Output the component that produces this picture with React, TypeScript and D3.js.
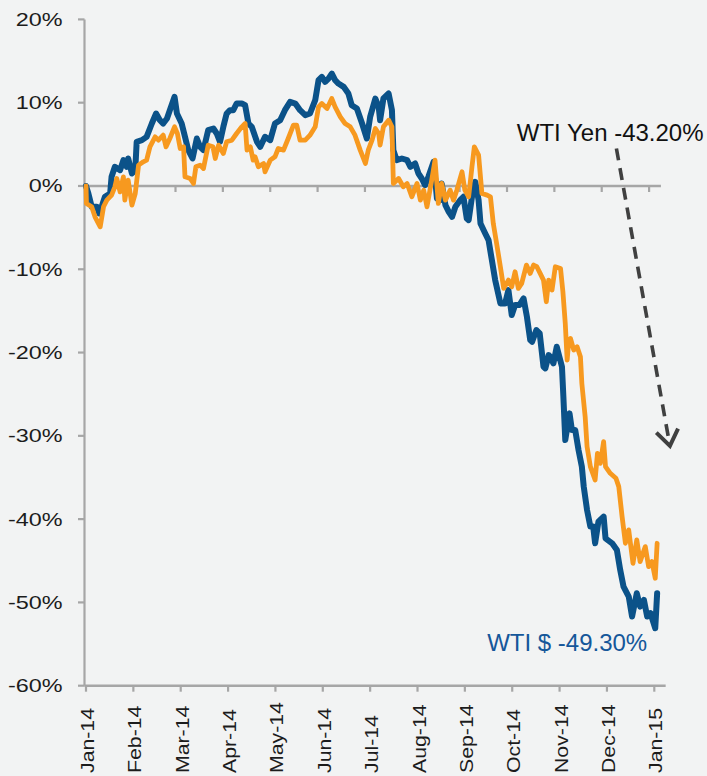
import React from "react";
import * as d3 from "d3";

const W = 707;
const H = 776;

const monthLabels = ["Jan-14","Feb-14","Mar-14","Apr-14","May-14","Jun-14","Jul-14","Aug-14","Sep-14","Oct-14","Nov-14","Dec-14","Jan-15"];
const yTicks = [20, 10, 0, -10, -20, -30, -40, -50, -60];

// WTI in USD, % change since start of 2014 (x = position in months from Jan-14)
const usdMonths = [0,0.05,0.12,0.23,0.28,0.33,0.40,0.51,0.54,0.61,
  0.72,0.79,0.86,0.89,0.97,1.04,1.07,1.18,1.28,1.39,
  1.48,1.56,1.63,1.71,1.77,1.87,1.92,2.02,2.09,2.16,
  2.25,2.34,2.41,2.48,2.58,2.69,2.76,2.83,2.90,2.97,
  3.04,3.11,3.18,3.29,3.36,3.43,3.50,3.61,3.68,3.78,
  3.89,3.99,4.10,4.20,4.31,4.42,4.52,4.63,4.73,4.84,
  4.91,4.98,5.05,5.12,5.19,5.26,5.33,5.44,5.54,5.61,
  5.72,5.83,5.93,6.00,6.11,6.18,6.21,6.28,6.39,6.46,
  6.49,6.56,6.67,6.78,6.85,6.95,7.02,7.09,7.16,7.23,
  7.34,7.41,7.48,7.51,7.59,7.66,7.73,7.80,7.90,7.97,
  8.04,8.08,8.15,8.22,8.29,8.33,8.43,8.50,8.57,8.64,
  8.75,8.85,8.92,8.99,9.06,9.15,9.24,9.31,9.38,9.42,
  9.51,9.58,9.66,9.70,9.77,9.80,9.87,9.94,10.05,10.08,
  10.12,10.21,10.26,10.33,10.40,10.47,10.51,10.58,10.65,10.71,
  10.75,10.82,10.93,10.97,11.11,11.21,11.28,11.35,11.46,11.53,
  11.63,11.70,11.78,11.85,11.92,12.02,12.06];
const usdValues = [0,-0.9,-2.5,-2.5,-3.3,-2.5,-1.3,-0.9,1.1,2.3,
  1.9,3.1,2.3,3.3,1.5,1.9,5.3,5.5,5.9,7.5,
  8.7,7.9,7.5,8.1,9.1,10.7,8.7,7.5,5.9,4.3,
  3.3,5.7,4.7,4.3,6.7,6.9,6.3,5.3,7.1,8.7,
  9.1,9.1,9.9,9.9,9.7,7.5,7.1,5.3,4.7,5.9,
  5.5,7.5,7.9,9.1,10.1,9.9,9.1,8.5,8.7,10.3,
  12.7,13.1,12.5,12.9,13.5,12.7,12.3,11.9,11.1,9.7,
  9.3,7.5,5.7,8.3,10.5,9.5,7.9,10.5,11.1,9.1,
  4.3,3.1,3.3,3.1,2.3,2.7,1.5,0.9,0.1,1.1,
  2.9,-1.5,-1.7,0.3,-2.3,-3.1,-3.7,-2.5,-1.7,-1.3,
  -3.9,-4.1,-1.3,0.5,-1.7,-4.5,-5.7,-6.5,-8.9,-11.3,
  -14.1,-14.1,-12.5,-15.5,-14.3,-14.3,-13.5,-15.7,-18.5,-18.7,
  -17.3,-17.7,-21.7,-21.9,-20.3,-20.5,-21.3,-19.3,-21.7,-25.3,
  -30.5,-27.3,-29.3,-29.3,-31.7,-33.7,-36.1,-38.9,-40.9,-40.9,
  -42.9,-40.3,-39.7,-42.3,-42.9,-43.7,-46.1,-48.1,-49.3,-51.7,
  -48.9,-50.5,-49.7,-51.7,-51.3,-53.1,-48.9];

// WTI in Yen
const yenMonths = [0,0.01,0.12,0.19,0.30,0.37,0.44,0.54,0.61,0.65,
  0.72,0.79,0.82,0.89,0.97,1.04,1.11,1.21,1.28,1.35,
  1.46,1.53,1.63,1.69,1.77,1.87,1.93,1.99,2.06,2.09,
  2.20,2.27,2.32,2.41,2.48,2.58,2.68,2.73,2.80,2.90,
  2.97,3.08,3.18,3.29,3.36,3.40,3.47,3.53,3.57,3.64,
  3.75,3.78,3.89,3.99,4.06,4.17,4.27,4.38,4.45,4.52,
  4.63,4.73,4.84,4.91,4.98,5.09,5.19,5.26,5.37,5.47,
  5.58,5.68,5.79,5.90,5.96,6.04,6.11,6.18,6.21,6.28,
  6.39,6.46,6.49,6.60,6.70,6.78,6.88,6.99,7.06,7.13,
  7.20,7.30,7.37,7.44,7.51,7.59,7.69,7.76,7.83,7.94,
  8.00,8.08,8.15,8.20,8.29,8.36,8.47,8.54,8.60,8.67,
  8.75,8.82,8.92,8.99,9.06,9.13,9.20,9.30,9.38,9.45,
  9.52,9.59,9.66,9.72,9.77,9.84,9.91,10.02,10.07,10.12,
  10.16,10.19,10.23,10.30,10.37,10.44,10.47,10.54,10.58,10.65,
  10.75,10.80,10.86,10.93,10.97,11.07,11.19,11.25,11.32,11.39,
  11.46,11.55,11.63,11.70,11.81,11.88,11.95,12.02,12.06];
const yenValues = [0,-2.1,-2.5,-3.7,-4.9,-2.5,-1.7,-1.1,-0.1,0.9,
  -0.7,1.1,-1.7,0.7,-2.3,-0.9,2.5,2.9,3.1,4.7,
  5.9,5.5,6.1,4.7,5.7,7.1,6.3,4.5,4.7,1.1,
  0.9,0.3,2.3,2.5,2.1,4.9,4.7,3.3,4.9,3.9,
  5.3,5.5,6.3,7.1,7.5,4.3,4.7,3.1,3.5,2.3,
  2.7,1.7,3.1,3.5,4.5,4.3,5.7,7.3,7.3,5.5,
  5.5,6.1,7.1,9.5,9.9,9.3,10.5,9.5,8.3,7.5,
  7.1,6.1,4.3,2.7,4.3,5.5,6.9,6.3,4.9,7.1,
  7.9,7.1,0.3,0.9,-0.1,0.3,-1.3,0.3,-1.7,-0.5,
  -2.5,0.7,3.1,-2.1,0.3,-1.7,-0.5,-1.7,-0.5,1.7,
  -0.5,-1.3,2.3,4.7,3.7,-0.9,-1.1,-1.3,-4.5,-6.9,
  -9.7,-12.3,-11.3,-12.1,-10.3,-12.3,-11.7,-9.5,-10.5,-9.5,
  -9.7,-10.5,-11.3,-13.9,-11.3,-12.5,-9.7,-9.9,-12.7,-16.5,
  -20.9,-18.9,-18.3,-19.7,-19.3,-20.5,-23.7,-27.7,-31.3,-33.7,
  -35.3,-32.1,-33.3,-30.7,-33.7,-34.5,-35.1,-36.1,-39.7,-42.9,
  -41.3,-45.3,-42.5,-45.1,-43.3,-45.7,-45.1,-47.1,-42.9];

const labelYen = "WTI Yen -43.20%";
const labelUsd = "WTI $ -49.30%";

const COLOR_USD = "#0b5289";
const COLOR_YEN = "#f7991f";
const AXIS = "#a6a6a6";
const FONT = "'Liberation Sans', Arial, Helvetica, sans-serif";

export default function App() {
  const x = d3.scaleLinear().domain([0, 12]).range([86, 654.3]);
  const y = d3.scaleLinear().domain([-60, 20]).range([685.7, 19.4]);

  const line = d3
    .line<[number, number]>()
    .x((d) => x(d[0]))
    .y((d) => y(d[1]))
    .curve(d3.curveLinear);

  const usd: [number, number][] = usdMonths.map((m, i) => [m, usdValues[i]]);
  const yen: [number, number][] = yenMonths.map((m, i) => [m, yenValues[i]]);

  const x0 = x(0) - 1.5;
  const zeroTicks = d3.range(1, 13).map((m) => m - 0.11);

  // arrow annotation in data coordinates
  const aStart: [number, number] = [11.2, 4.5];
  const aEnd: [number, number] = [12.33, -31.2];
  const ax1 = x(aStart[0]), ay1 = y(aStart[1]);
  const ax2 = x(aEnd[0]), ay2 = y(aEnd[1]);
  const ang = Math.atan2(ay2 - ay1, ax2 - ax1);
  const headLen = 19;
  const headSpread = 0.62;
  const h1x = ax2 - headLen * Math.cos(ang - headSpread);
  const h1y = ay2 - headLen * Math.sin(ang - headSpread);
  const h2x = ax2 - headLen * Math.cos(ang + headSpread);
  const h2y = ay2 - headLen * Math.sin(ang + headSpread);

  return (
    <svg
      width={W}
      height={H}
      style={{ position: "absolute", left: 0, top: 0, display: "block" }}
      fontFamily={FONT}
    >
      <rect x={0} y={0} width={W} height={H} fill="#f2f3f3" />

      {/* y axis */}
      <line x1={x0} x2={x0} y1={y(20)} y2={y(-60)} stroke={AXIS} strokeWidth={2.2} />
      {yTicks.map((t) => (
        <g key={t}>
          <line x1={x0 - 6.5} x2={x0} y1={y(t)} y2={y(t)} stroke={AXIS} strokeWidth={2.2} />
          <text
            transform={`translate(62.5,${y(t)}) scale(1.3,1)`}
            textAnchor="end"
            dy="0.36em"
            fontSize={18}
            fill="#1c1c1c"
          >
            {`${t}%`}
          </text>
        </g>
      ))}

      {/* zero line */}
      <line x1={x0} x2={x(12.14)} y1={y(0)} y2={y(0)} stroke={AXIS} strokeWidth={2.6} />
      {zeroTicks.map((m) => (
        <line key={m} x1={x(m)} x2={x(m)} y1={y(0)} y2={y(0) + 6} stroke={AXIS} strokeWidth={2.2} />
      ))}

      {/* bottom axis */}
      <line x1={x0} x2={x(12.24)} y1={y(-60)} y2={y(-60)} stroke={AXIS} strokeWidth={2.6} />
      {monthLabels.map((lab, i) => (
        <g key={lab}>
          <line x1={x(i)} x2={x(i)} y1={y(-60)} y2={y(-60) + 6} stroke={AXIS} strokeWidth={2.2} />
          <text
            transform={`translate(${x(i) + 8},773) rotate(-90) scale(1.12,1)`}
            textAnchor="start"
            fontSize={19}
            fill="#1c1c1c"
          >
            {lab}
          </text>
        </g>
      ))}

      {/* series */}
      <path d={line(usd) || ""} fill="none" stroke={COLOR_USD} strokeWidth={6} strokeLinejoin="round" strokeLinecap="round" />
      <path d={line(yen) || ""} fill="none" stroke={COLOR_YEN} strokeWidth={4.8} strokeLinejoin="round" strokeLinecap="round" />

      {/* annotations */}
      <text x={x(13.04)} y={y(5.45)} textAnchor="end" fontSize={24} fill="#111">
        {labelYen}
      </text>
      <line
        x1={ax1}
        y1={ay1}
        x2={ax2 - 4 * Math.cos(ang)}
        y2={ay2 - 4 * Math.sin(ang)}
        stroke="#404040"
        strokeWidth={3.6}
        strokeDasharray="12 8"
      />
      <polyline
        points={`${h1x},${h1y} ${ax2},${ay2} ${h2x},${h2y}`}
        fill="none"
        stroke="#404040"
        strokeWidth={4}
        strokeLinejoin="miter"
      />
      <text x={x(11.85)} y={y(-55.8)} textAnchor="end" fontSize={24} fill="#15579a">
        {labelUsd}
      </text>
    </svg>
  );
}
